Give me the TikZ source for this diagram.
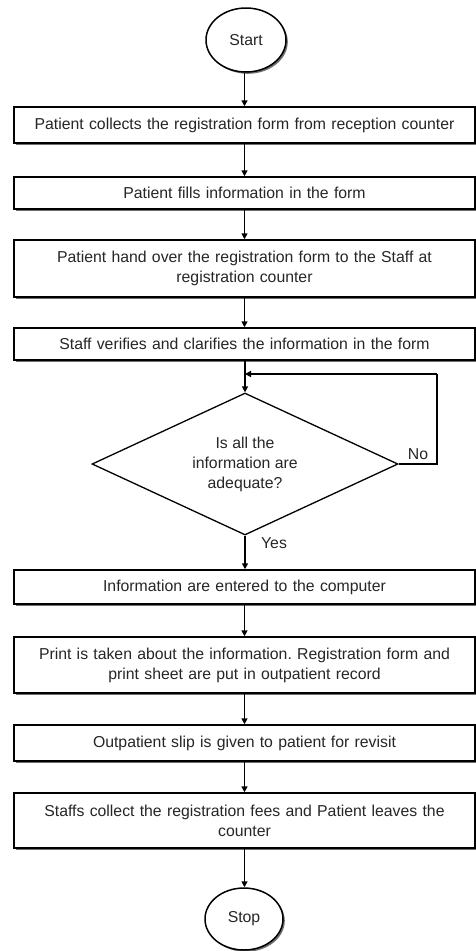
\documentclass[tikz,border=0pt]{standalone}
\usepackage{fontspec}
\setmainfont{Liberation Sans}
\usetikzlibrary{shapes.geometric,shadows,arrows.meta}
\frenchspacing
\begin{document}
\begin{tikzpicture}[x=1pt,y=1pt,
  txt/.style={font=\fontsize{15.8}{20}\selectfont, text=black!85},
  shad/.style={drop shadow={shadow xshift=1.8pt, shadow yshift=-1.8pt, fill=black!70, opacity=0.8}},
  boxnode/.style={txt, draw, line width=1.5pt, fill=white, minimum width=461pt, text width=455pt, inner sep=0pt, align=center, shad},
  term/.style={txt, draw, ellipse, line width=1.5pt, fill=white, inner sep=0pt, shad},
  dec/.style={draw, diamond, line width=1.3pt, fill=white, inner sep=0pt, minimum width=306pt, minimum height=142pt},
  arr/.style={line width=1.5pt, -{Triangle[length=6pt,width=6pt]}},
  lbl/.style={txt}
]
\useasboundingbox (0,0) rectangle (476,-951);
\node[term, minimum width=80pt, minimum height=64pt] (start) at (246,-40) {Start};
\node[boxnode, minimum height=36pt] (b1) at (244.5,-125) {Patient collects the registration form from reception counter};
\node[boxnode, minimum height=32pt] (b2) at (244.5,-193) {Patient fills information in the form};
\node[boxnode, minimum height=57pt] (b3) at (244.5,-268.5) {Patient hand over the registration form to the Staff at\\registration counter};
\node[boxnode, minimum height=32pt] (b4) at (244.5,-344) {Staff verifies and clarifies the information in the form};
\node[dec] (dia) at (245,-464) {};
\node[txt, align=center] (diat) at (245,-464) {Is all the\\information are\\adequate?};
\node[boxnode, minimum height=34pt] (b5) at (244.5,-587) {Information are entered to the computer};
\node[boxnode, minimum height=56pt] (b6) at (244.5,-665) {Print is taken about the information. Registration form and\\print sheet are put in outpatient record};
\node[boxnode, minimum height=36pt] (b7) at (244.5,-743) {Outpatient slip is given to patient for revisit};
\node[boxnode, minimum height=55pt] (b8) at (244.5,-820.5) {Staffs collect the registration fees and Patient leaves the\\counter};
\node[term, minimum width=78pt, minimum height=62pt] (stop) at (244,-919) {Stop};
\node[lbl] (no) at (418,-454) {No};
\node[lbl] (yes) at (274,-543) {Yes};
\coordinate (loopc) at (245,-374);
\coordinate (lr) at (437,-374);
\draw[arr] (start.south -| b1) -- (b1);
\draw[arr] (b1) -- (b2);
\draw[arr] (b2) -- (b3);
\draw[arr] (b3) -- (b4);
\draw[arr] (b4.south -| dia) -- (dia.north);
\draw[line width=1.5pt] (dia.east) -| (lr);
\draw[arr] (lr) -- (loopc);
\draw[arr] (dia.south) -- (dia.south |- b5.north);
\draw[arr] (b5) -- (b6);
\draw[arr] (b6) -- (b7);
\draw[arr] (b7) -- (b8);
\draw[arr] (b8) -- (b8.south |- stop.north);
\end{tikzpicture}
\end{document}
